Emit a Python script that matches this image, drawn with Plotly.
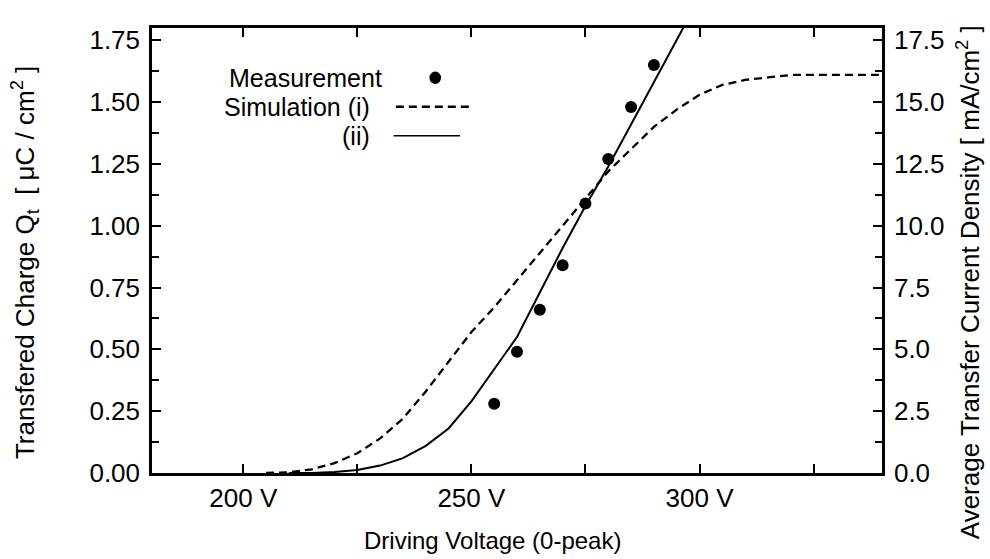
import plotly.graph_objects as go

# Measured transferred charge vs. driving voltage (0-peak)
meas_v = [255, 260, 265, 270, 275, 280, 285, 290]
meas_q = [0.28, 0.49, 0.66, 0.84, 1.09, 1.27, 1.48, 1.65]

# Simulation (i) -- dashed curve
sim1_v = [205, 210, 215, 220, 225, 230, 235, 240, 245, 250, 255, 260, 265, 270,
          275, 280, 285, 290, 295, 300, 305, 310, 315, 320, 330, 340]
sim1_q = [0.0, 0.003, 0.015, 0.04, 0.08, 0.14, 0.22, 0.33, 0.45, 0.57, 0.67, 0.78,
          0.89, 1.00, 1.11, 1.22, 1.31, 1.40, 1.47, 1.53, 1.57, 1.59, 1.60, 1.61,
          1.61, 1.61]

# Simulation (ii) -- solid curve
sim2_v = [210, 215, 220, 225, 230, 235, 240, 245, 250, 255, 260, 265, 270, 275,
          280, 285, 290, 295, 297]
sim2_q = [0.0, 0.0, 0.004, 0.012, 0.03, 0.06, 0.11, 0.18, 0.29, 0.42, 0.55, 0.73,
          0.91, 1.08, 1.24, 1.41, 1.58, 1.75, 1.82]

# Conversion from transferred charge to average transfer current density
density_factor = 10.0
q_range = [0, 1.80]

FONT = "Liberation Sans, Arial, Helvetica, sans-serif"
INK = "black"

fig = go.Figure()

fig.add_trace(go.Scatter(
    x=sim1_v, y=sim1_q, mode="lines",
    line=dict(color=INK, width=2.3, dash="8px,5px"),
    showlegend=False, hoverinfo="skip"))

fig.add_trace(go.Scatter(
    x=sim2_v, y=sim2_q, mode="lines",
    line=dict(color=INK, width=2),
    showlegend=False, hoverinfo="skip"))

fig.add_trace(go.Scatter(
    x=meas_v, y=meas_q, mode="markers",
    marker=dict(color=INK, size=12),
    showlegend=False))

# invisible companion trace so the right-hand axis is drawn
fig.add_trace(go.Scatter(
    x=meas_v, y=[q * density_factor for q in meas_q], yaxis="y2",
    mode="markers", marker=dict(opacity=0), showlegend=False, hoverinfo="skip"))

# hand-built key: text on the left, symbol sample on the right
key_font = dict(family=FONT, size=25, color=INK)
key_rows = [
    ("Measurement", 0.318, 0.888),
    ("Simulation (i)", 0.302, 0.823),
    ("(ii)", 0.302, 0.758),
]
for text, xx, yy in key_rows:
    fig.add_annotation(x=xx, y=yy, xref="paper", yref="paper", text=text,
                       showarrow=False, xanchor="right", yanchor="middle",
                       font=key_font)

fig.add_shape(type="circle", xref="paper", yref="paper",
              x0=0.380, x1=0.396, y0=0.888 - 0.014, y1=0.888 + 0.014,
              fillcolor=INK, line=dict(color=INK, width=0))
fig.add_shape(type="line", xref="paper", yref="paper",
              x0=0.334, x1=0.434, y0=0.823, y1=0.823,
              line=dict(color=INK, width=2.3, dash="8px,5px"))
fig.add_shape(type="line", xref="paper", yref="paper",
              x0=0.331, x1=0.422, y0=0.758, y1=0.758,
              line=dict(color=INK, width=1.6))

tick_font = dict(family=FONT, size=26, color=INK)
title_font = dict(family=FONT, size=26, color=INK)

# axis titles placed as annotations
fig.add_annotation(x=-0.174, y=0.474, xref="paper", yref="paper",
                   text="Transfered Charge Q<sub>t</sub>  [ μC / cm<sup>2</sup> ]",
                   textangle=-90, showarrow=False, xanchor="center",
                   yanchor="middle", font=title_font)
fig.add_annotation(x=1.118, y=0.429, xref="paper", yref="paper",
                   text="Average Transfer Current Density [ mA/cm<sup>2</sup> ]",
                   textangle=-90, showarrow=False, xanchor="center",
                   yanchor="middle", font=title_font)
fig.add_annotation(x=0.466, y=-0.151, xref="paper", yref="paper",
                   text="Driving Voltage (0-peak)", showarrow=False,
                   xanchor="center", yanchor="middle",
                   font=dict(family=FONT, size=24, color=INK))

fig.update_layout(
    width=990, height=559,
    margin=dict(l=152, r=108, t=28, b=86),
    paper_bgcolor="white", plot_bgcolor="white",
    xaxis=dict(
        range=[180, 340], dtick=50, tick0=200, ticksuffix=" V",
        showgrid=False, zeroline=False,
        showline=True, linecolor=INK, linewidth=2.5, mirror="ticks",
        ticks="inside", ticklen=9, tickwidth=2, tickcolor=INK,
        minor=dict(dtick=25, tick0=225, ticks="inside", ticklen=9,
                   tickwidth=2, tickcolor=INK),
        tickfont=tick_font,
    ),
    yaxis=dict(
        range=q_range, dtick=0.25, tickformat=".2f",
        showgrid=False, zeroline=False,
        showline=True, linecolor=INK, linewidth=2.5,
        ticks="inside", ticklen=9, tickwidth=2, tickcolor=INK,
        minor=dict(dtick=0.125, ticks="inside", ticklen=7, tickwidth=2,
                   tickcolor=INK),
        tickfont=tick_font, ticklabelstandoff=4,
    ),
    yaxis2=dict(
        range=[q_range[0] * density_factor, q_range[1] * density_factor],
        dtick=2.5, tickformat=".1f", overlaying="y", side="right",
        showgrid=False, zeroline=False,
        showline=True, linecolor=INK, linewidth=2.5,
        ticks="inside", ticklen=9, tickwidth=2, tickcolor=INK,
        minor=dict(dtick=1.25, ticks="inside", ticklen=7, tickwidth=2,
                   tickcolor=INK),
        tickfont=tick_font, ticklabelstandoff=4,
    ),
)

fig.write_html("out.html")
